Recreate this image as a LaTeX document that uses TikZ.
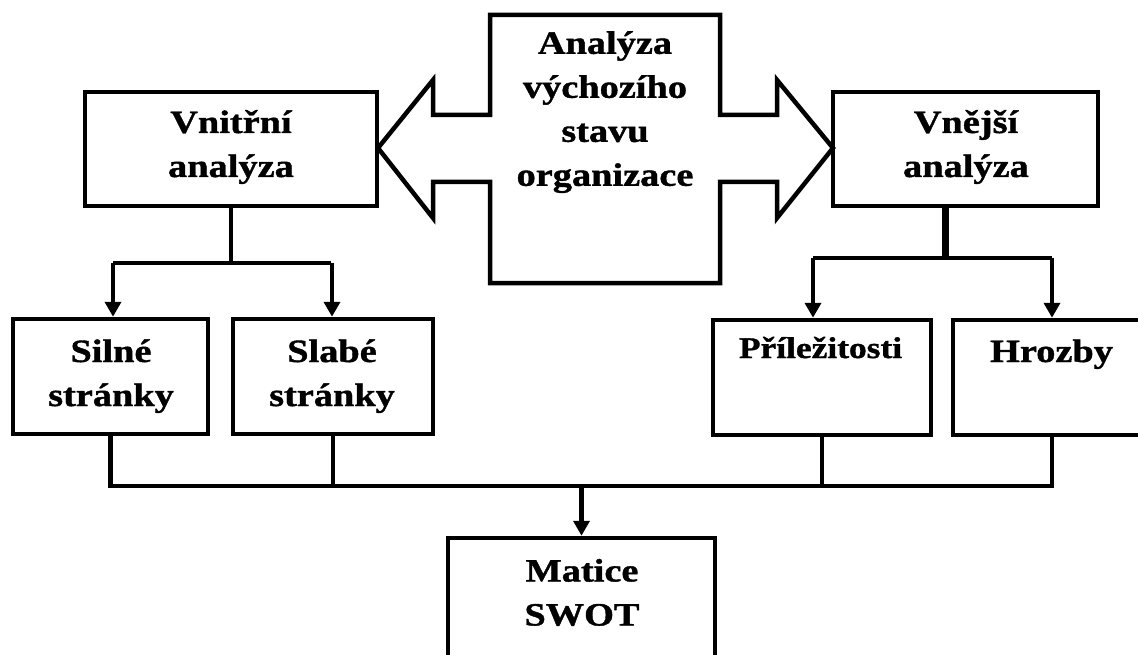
\documentclass[tikz,border=0pt]{standalone}
\usepackage{fontspec}
\setmainfont{Liberation Serif}[FakeStretch=1.18,BoldFeatures={FakeBold=1.2}]
\usetikzlibrary{arrows.meta}
\begin{document}
\begin{tikzpicture}[x=1pt,y=-1pt,
  box/.style={draw,line width=4.5pt,line join=miter,minimum width=#1,inner sep=0pt},
  txt/.style={font=\fontsize{32.5}{44}\selectfont\bfseries,align=center,inner sep=0pt},
  con/.style={line width=4.5pt,line join=miter},
  arr/.style={con,-{Triangle[width=16pt,length=15pt]}}]
\useasboundingbox (0,0) rectangle (1138,655);
\clip (0,0) rectangle (1138,655);
% central double arrow
\draw[line width=4.5pt,line join=miter] (490,15) -- (720,15) -- (720,115) -- (777,115) -- (777,80) -- (833,148)
  -- (777,218) -- (777,182) -- (720,182) -- (720,283) -- (490,283) -- (490,182) -- (433,182)
  -- (433,218) -- (378,148) -- (433,80) -- (433,115) -- (490,115) -- cycle;
\node[txt] (tc) at (605,111) {\strut Analýza\\výchozího\\stavu\\organizace\strut};
% boxes
\node[box=292pt,minimum height=114pt] (vn) at (231,149) {};
\node[box=265pt,minimum height=114pt] (vne) at (965.5,149) {};
\node[box=195pt,minimum height=115pt] (sil) at (110.5,376.5) {};
\node[box=200pt,minimum height=115pt] (sla) at (333,376.5) {};
\node[box=218pt,minimum height=115pt] (pri) at (822,377.5) {};
\node[box=198pt,minimum height=115pt] (hro) at (1052,377.5) {};
\node[box=267pt,minimum height=142pt] (mat) at (581.5,609) {};
% texts
\node[txt] (tvn) at (231,146.2) {\strut Vnitřní\\analýza\strut};
\node[txt] (tvne) at (966,146.2) {\strut Vnější\\analýza\strut};
\node[txt] (tsil) at (111,375.2) {\strut Silné\\stránky\strut};
\node[txt] (tsla) at (332,375.2) {\strut Slabé\\stránky\strut};
\node[txt,font=\fontsize{30}{40}\selectfont\bfseries,anchor=base] (tpri) at (820.5,358) {Příležitosti};
\node[txt,anchor=base] (thro) at (1051.5,362) {Hrozby};
\node[txt] (tmat) at (582,594.7) {\strut Matice\\SWOT\strut};
% junctions
\coordinate (jL) at (231,263);
\coordinate (jR) at (945,258);
\coordinate (jB) at (581.5,486);
% left branch
\draw[con] (vn.south) -- (jL);
\draw[con] ([xshift=2.5pt]sil.north |- jL) -- ([xshift=-2pt]sla.north |- jL);
\draw[arr] ([xshift=2.5pt]sil.north |- jL) -- ([xshift=2.5pt]sil.north);
\draw[arr] ([xshift=-1pt]sla.north |- jL) -- ([xshift=-1pt]sla.north);
% right branch
\draw[line width=7pt] (jR |- vne.south) -- (jR);
\draw[con] ([xshift=-9pt]pri.north |- jR) -- (hro.north |- jR);
\draw[arr] ([xshift=-9pt]pri.north |- jR) -- ([xshift=-9pt]pri.north);
\draw[arr] (hro.north |- jR) -- (hro.north);
% bottom collection
\draw[con] (sil.south) |- (jB) -| (hro.south);
\draw[con] (sla.south) -- (sla.south |- jB);
\draw[con] (pri.south) -- (pri.south |- jB);
\draw[arr] (jB) -- (mat.north);
\end{tikzpicture}
\end{document}
